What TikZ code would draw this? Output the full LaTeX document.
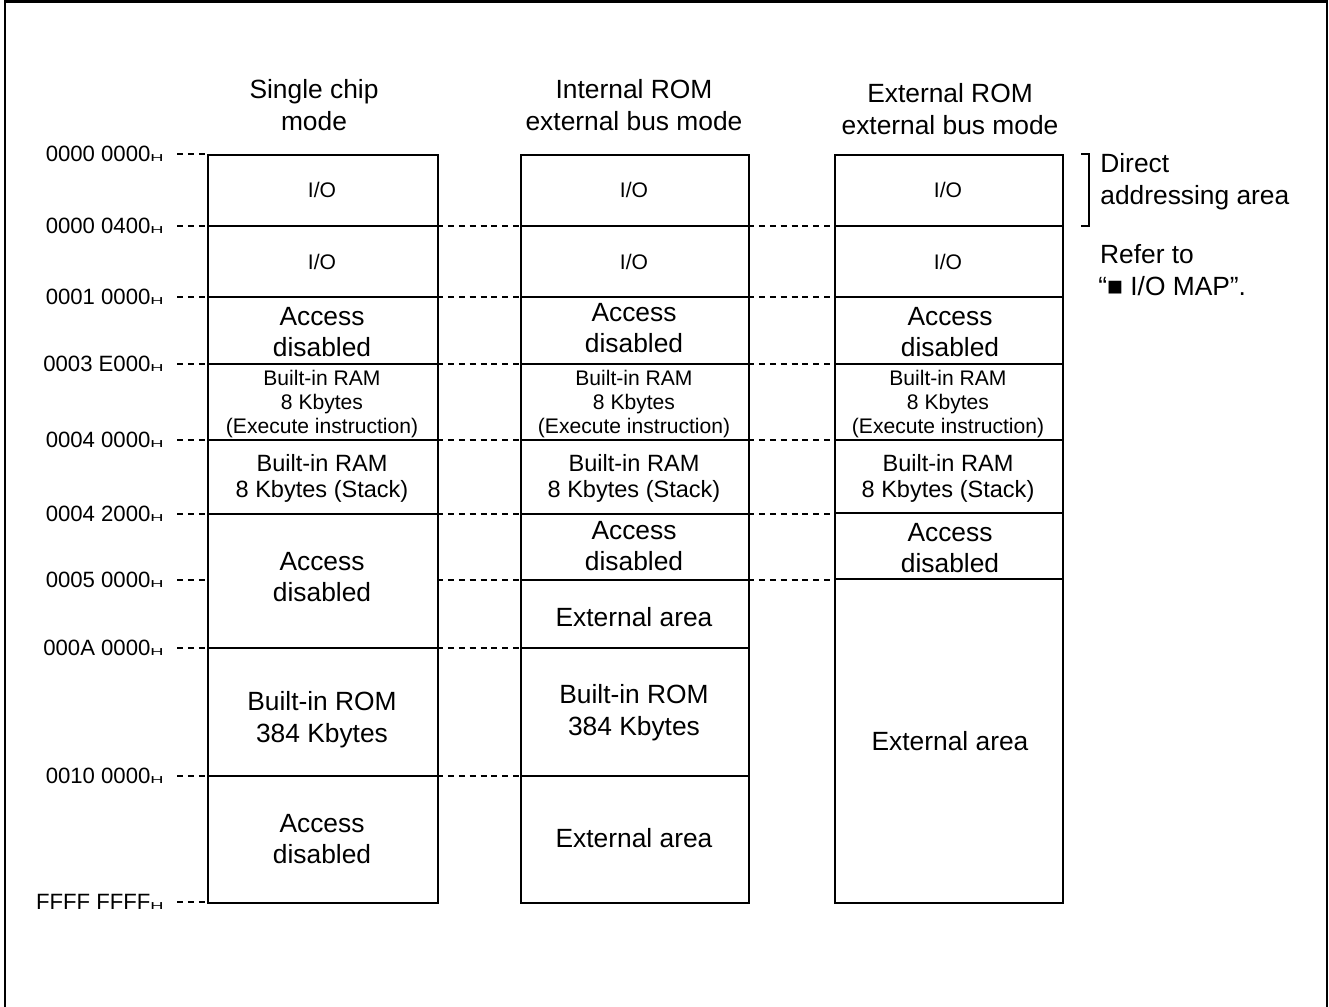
\documentclass[tikz,border=0pt]{standalone}
\usepackage{fontspec}
\setmainfont{Liberation Sans}
\newcommand{\hsuf}{{\fontsize{8}{8}\selectfont\scalebox{1.3}[0.72]{H}}}
\begin{document}
\begin{tikzpicture}[x=0.02cm,y=-0.02cm,
  big/.style={font=\fontsize{15}{18.1}\selectfont, align=center, inner sep=0pt},
  mid/.style={font=\fontsize{13.4}{14.8}\selectfont, align=center, inner sep=0pt},
  small/.style={font=\fontsize{12}{13.6}\selectfont, align=center, inner sep=0pt},
  addr/.style={font=\fontsize{12.6}{14}\selectfont, anchor=east, inner sep=0pt},
  colbox/.style={draw, line width=1.1pt},
  divider/.style={line width=0.7pt},
  guide/.style={line width=0.6pt, dash pattern=on 3.4pt off 2.8pt},
  frame/.style={line width=1.3pt}]
\useasboundingbox (0,0) rectangle (1329,1007);
% outer frame (open at the bottom)
\draw[frame] (5,1007) -- (5,1.5) -- (1327,1.5) -- (1327,1007);

% column boxes
\node[colbox, minimum width=230*0.02cm, minimum height=748*0.02cm, inner sep=0pt, anchor=north west] (col1) at (207,154) {};
\node[colbox, minimum width=228*0.02cm, minimum height=748*0.02cm, inner sep=0pt, anchor=north west] (col2) at (520,154) {};
\node[colbox, minimum width=228*0.02cm, minimum height=748*0.02cm, inner sep=0pt, anchor=north west] (col3) at (834,154) {};

% titles
\node[big] (t1) at (314,105) {Single chip\\mode};
\node[big] (t2) at (634,105) {Internal ROM\\external bus mode};
\node[big] (t3) at (950,109) {External ROM\\external bus mode};

% dividers
\foreach \y in {226,297,364,440,514,648,776} \draw[divider] (207,\y) -- (437,\y);
\foreach \y in {226,297,364,440,514,580,648,776} \draw[divider] (520,\y) -- (748,\y);
\foreach \y in {226,297,364,440,513,579} \draw[divider] (834,\y) -- (1062,\y);

% guides between columns
\foreach \y in {226,297,364,440,514,580,648,776} \draw[guide] (437,\y) -- (520,\y);
\foreach \y in {226,297,364,440,514,580} \draw[guide] (748,\y) -- (834,\y);

% address labels
\foreach \n/\y/\t in {a0/154/0000 0000, a1/226/0000 0400, a2/297/0001 0000, a3/364/0003 E000,
  a4/440/0004 0000, a5/514/0004 2000, a6/580/0005 0000, a7/648/000A 0000, a8/776/0010 0000, a9/902/FFFF FFFF}{
  \node[addr] (\n) at (164,\y) {\t\hsuf};
  \draw[guide] (177,\y) -- (207,\y);
}

% column 1 contents
\node[small] (c1a) at (322,190) {I/O};
\node[small] (c1b) at (322,262) {I/O};
\node[big]   (c1c) at (322,332) {Access\\disabled};
\node[small] (c1d) at (322,404) {Built-in RAM\\8 Kbytes\\(Execute instruction)};
\node[mid]   (c1e) at (322,478) {Built-in RAM\\8 Kbytes (Stack)};
\node[big]   (c1f) at (322,577) {Access\\disabled};
\node[big]   (c1g) at (322,720) {Built-in ROM\\384 Kbytes};
\node[big]   (c1h) at (322,839) {Access\\disabled};

% column 2 contents
\node[small] (c2a) at (634,190) {I/O};
\node[small] (c2b) at (634,262) {I/O};
\node[big]   (c2c) at (634,328) {Access\\disabled};
\node[small] (c2d) at (634,404) {Built-in RAM\\8 Kbytes\\(Execute instruction)};
\node[mid]   (c2e) at (634,478) {Built-in RAM\\8 Kbytes (Stack)};
\node[big]   (c2f) at (634,546) {Access\\disabled};
\node[big]   (c2g) at (634,617) {External area};
\node[big]   (c2h) at (634,713) {Built-in ROM\\384 Kbytes};
\node[big]   (c2i) at (634,838) {External area};

% column 3 contents
\node[small] (c3a) at (948,190) {I/O};
\node[small] (c3b) at (948,262) {I/O};
\node[big]   (c3c) at (950,332) {Access\\disabled};
\node[small] (c3d) at (948,404) {Built-in RAM\\8 Kbytes\\(Execute instruction)};
\node[mid]   (c3e) at (948,478) {Built-in RAM\\8 Kbytes (Stack)};
\node[big]   (c3f) at (950,548) {Access\\disabled};
\node[big]   (c3g) at (950,741) {External area};

% right-side notes
\draw[line width=0.6pt] (1081,154) -- (1089,154) -- (1089,226) -- (1081,226);
\node[big, align=left, anchor=west] (n1) at (1100,182) {Direct\\addressing area};
\node[big, align=left, anchor=west] (n2) at (1098,270) {\hspace*{1pt}Refer to\\“■ I/O MAP”.};
\end{tikzpicture}
\end{document}
